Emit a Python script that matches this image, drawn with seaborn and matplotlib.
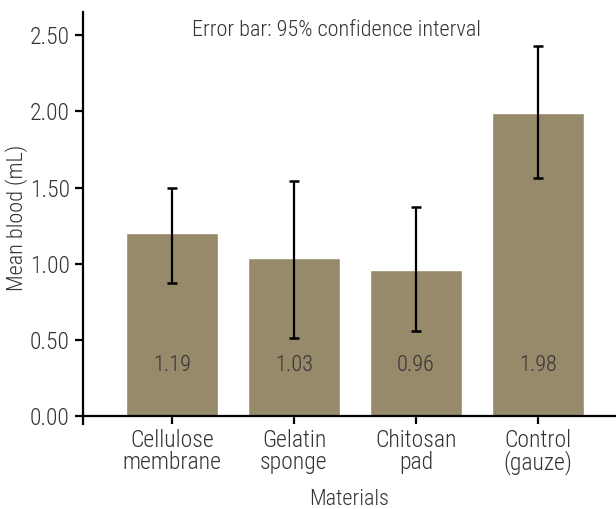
import numpy as np
import pandas as pd
import matplotlib
matplotlib.use('Agg')
import matplotlib.pyplot as plt
import seaborn as sns

# 数据
materials = ['Cellulose\nmembrane', 'Gelatin\nsponge', 'Chitosan\npad', 'Control\n(gauze)']
means = [1.20, 1.04, 0.96, 1.99]
ci_low = [0.87, 0.51, 0.56, 1.56]
ci_high = [1.50, 1.54, 1.37, 2.43]
value_labels = ['1.19', '1.03', '0.96', '1.98']
yticks = [0.0, 0.5, 1.0, 1.5, 2.0, 2.5]

sns.set_style('ticks')
plt.rcParams['font.family'] = ['Roboto Condensed', 'DejaVu Sans']
plt.rcParams['font.weight'] = 'light'
plt.rcParams['axes.labelweight'] = 'light'
txt = '#333333'

df = pd.DataFrame({'material': materials, 'mean': means})

fig = plt.figure(figsize=(6.16, 5.09), dpi=100)
ax = fig.add_axes([0.1347, 0.167, 0.8653, 0.809])

sns.barplot(data=df, x='material', y='mean', color='#978A6A', saturation=1,
            width=0.76, ax=ax)

x = np.arange(len(materials))
lo = np.array(means) - np.array(ci_low)
hi = np.array(ci_high) - np.array(means)
ax.errorbar(x, means, yerr=[lo, hi], fmt='none', ecolor='black',
            elinewidth=1.6, capsize=3.4, capthick=1.8)

for i, s in enumerate(value_labels):
    ax.text(i, 0.33, s, ha='center', va='center', fontsize=16, color=txt)

ax.text(0.475, 0.955, 'Error bar: 95% confidence interval', transform=ax.transAxes,
        ha='center', va='center', fontsize=16, color=txt)

ax.set_ylim(-0.0525, 2.651)
ax.set_xlim(-0.73, 3.64)
ax.set_yticks(yticks)
ax.set_yticklabels([f'{v:.2f}' for v in yticks])
ax.spines['bottom'].set_position(('data', 0))
sns.despine(ax=ax)
for sp in ['left', 'bottom']:
    ax.spines[sp].set_linewidth(1.6)
    ax.spines[sp].set_color('black')
ax.tick_params(axis='both', width=1.6, length=6, color='black',
               labelsize=17, labelcolor=txt)
ax.tick_params(axis='x', pad=3)
for lab in ax.get_xticklabels():
    lab.set_linespacing(0.95)

ax.set_xlabel('Materials', fontsize=16, color=txt, labelpad=10, fontweight='light')
ax.set_ylabel('Mean blood (mL)', fontsize=16, color=txt, labelpad=1, fontweight='light')

fig.savefig('out.png', dpi=100)
